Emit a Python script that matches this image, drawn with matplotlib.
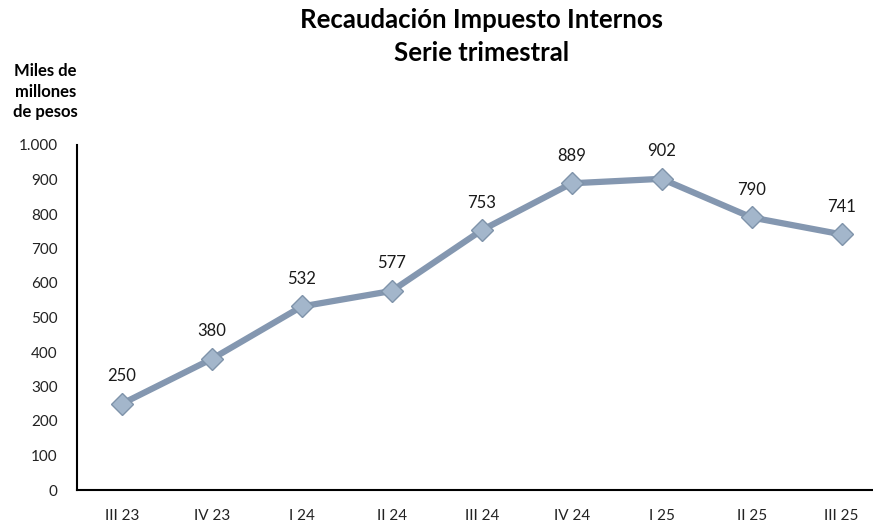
import matplotlib.pyplot as plt

trimestres = ['III 23', 'IV 23', 'I 24', 'II 24', 'III 24', 'IV 24', 'I 25', 'II 25', 'III 25']
recaudacion = [250, 380, 532, 577, 753, 889, 902, 790, 741]
yticks = [0, 100, 200, 300, 400, 500, 600, 700, 800, 900, 1000]
ytick_labels = ['0', '100', '200', '300', '400', '500', '600', '700', '800', '900', '1.000']

plt.rcParams['font.family'] = ['Lato', 'DejaVu Sans']

fig = plt.figure(figsize=(8.73, 5.25), dpi=100)
ax = fig.add_axes([77/873, 35/525, 1 - 77/873, 345/525])

x = range(len(trimestres))
ax.plot(x, recaudacion, color='#8497B0', lw=4.5, zorder=2,
        marker='D', ms=11, mfc='#A3B6CB', mec='#7F93AA', mew=1)

for i, v in enumerate(recaudacion):
    ax.annotate(str(v), (i, v), xytext=(0, 14), textcoords='offset points',
                ha='center', va='bottom', fontsize=12, color='#1a1a1a')

ax.set_ylim(0, 1000)
ax.set_xlim(-0.5, 8.35)
ax.set_yticks(yticks)
ax.set_yticklabels(ytick_labels)
ax.set_xticks(list(x))
ax.set_xticklabels(trimestres)
ax.tick_params(length=0, labelsize=11, colors='#222222')
ax.tick_params(axis='y', pad=14)
ax.tick_params(axis='x', pad=14)
for s in ['top', 'right']:
    ax.spines[s].set_visible(False)
for s in ['left', 'bottom']:
    ax.spines[s].set_linewidth(1.5)
    ax.spines[s].set_color('black')

fig.text(0.552, 0.985, 'Recaudación Impuesto Internos\nSerie trimestral',
         ha='center', va='top', fontsize=18.5, fontweight='bold', linespacing=1.45)
fig.text(0.052, 0.88, 'Miles de\nmillones\nde pesos', ha='center', va='top',
         fontsize=12, fontweight='bold', linespacing=1.35)

fig.savefig('out.png', dpi=100)
